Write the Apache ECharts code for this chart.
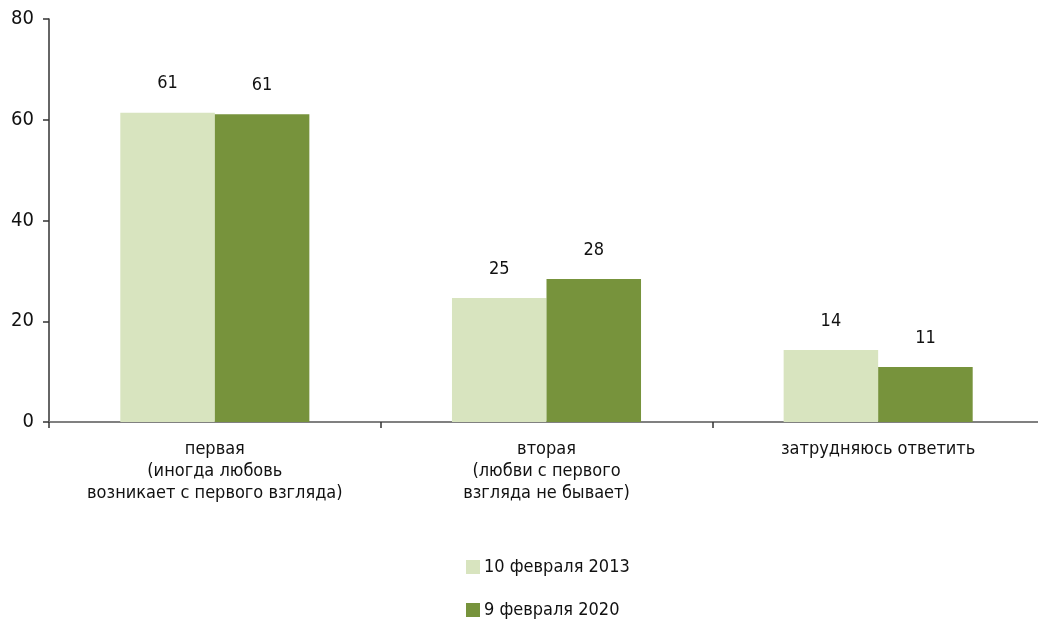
<!DOCTYPE html>
<html><head><meta charset="utf-8">
<script src="https://cdn.jsdelivr.net/npm/echarts@6/dist/echarts.min.js"></script>
<style>html,body{margin:0;padding:0;background:#fff}#c{width:1038px;height:622px}</style>
</head><body><div id="c"></div>
<script>
const categories = ['первая\n(иногда любовь\nвозникает с первого взгляда)', 'вторая\n(любви с первого\nвзгляда не бывает)', 'затрудняюсь ответить'];
const seriesNames = ['10 февраля 2013', '9 февраля 2020'];
const values2013 = [61.4, 24.6, 14.3];
const values2020 = [61.1, 28.4, 10.9];
const yTicks = {min: 0, max: 80, interval: 20};

const FONT = '"Liberation Sans Narrow", "DejaVu Sans Condensed", "Roboto Condensed", sans-serif';
const chart = echarts.init(document.getElementById('c'));
const lbl = {show: true, position: 'top', distance: 20, color: '#111', fontSize: 18, fontFamily: FONT,
  formatter: p => Math.round(p.value)};
chart.setOption({
  animation: false,
  textStyle: {fontFamily: FONT},
  grid: {left: 49, width: 995, top: 19, bottom: 200, containLabel: false, outerBoundsMode: 'none'},
  legend: {
    orient: 'vertical', left: 466, top: 558, itemWidth: 14, itemHeight: 14, itemGap: 25,
    padding: 0,
    icon: 'rect', textStyle: {fontSize: 18, lineHeight: 16, color: '#111', fontFamily: FONT, padding: [0,0,0,-1]},
    data: seriesNames
  },
  xAxis: {
    type: 'category', data: categories,
    axisLine: {lineStyle: {color: '#808080', width: 2}},
    axisTick: {show: true, length: 6, lineStyle: {color: '#333', width: 1.5}},
    axisLabel: {color: '#111', fontSize: 18, lineHeight: 22, margin: 16, fontFamily: FONT, interval: 0}
  },
  yAxis: {
    type: 'value', min: yTicks.min, max: yTicks.max, interval: yTicks.interval,
    axisLine: {show: true, lineStyle: {color: '#333', width: 1.5}},
    axisTick: {show: true, length: 6, lineStyle: {color: '#333', width: 1.5}},
    splitLine: {show: false},
    axisLabel: {color: '#111', fontSize: 20, margin: 15, fontFamily: FONT}
  },
  series: [
    {name: seriesNames[0], type: 'bar', data: values2013, barGap: '0%', barCategoryGap: '43%',
     itemStyle: {color: '#d8e4bf'}, label: lbl},
    {name: seriesNames[1], type: 'bar', data: values2020, barGap: '0%', barCategoryGap: '43%',
     itemStyle: {color: '#77933c'}, label: lbl}
  ]
});
</script></body></html>
